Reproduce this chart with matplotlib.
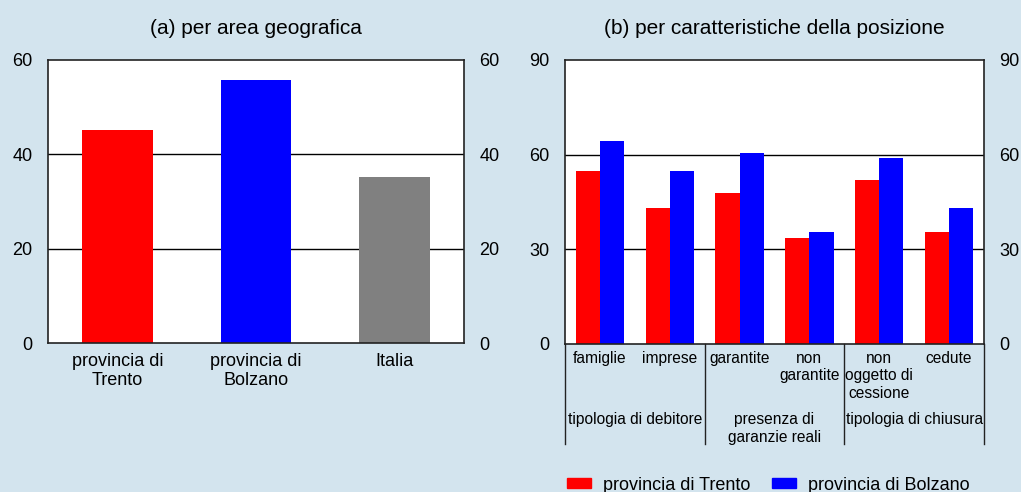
import matplotlib
matplotlib.use("Agg")
import matplotlib.pyplot as plt
import matplotlib.transforms as mtransforms
from matplotlib.patches import Patch

plt.rcParams['font.family'] = ['Liberation Sans', 'DejaVu Sans']

# %% data
geo_labels = ['provincia di\nTrento', 'provincia di\nBolzano', 'Italia']
geo_values = [45.2, 55.8, 35.2]
geo_colors = ['#ff0000', '#0000ff', '#808080']

pos_labels = ['famiglie', 'imprese', 'garantite', 'non\ngarantite',
              'non\noggetto di\ncessione', 'cedute']
trento = [54.7, 43.0, 47.8, 33.6, 51.9, 35.4]
bolzano = [64.4, 54.8, 60.5, 35.6, 58.9, 43.0]
group_labels = ['tipologia di debitore', 'presenza di\ngaranzie reali', 'tipologia di chiusura']
group_centers = [0.5, 2.5, 4.5]
group_edges = [-0.5, 1.5, 3.5, 5.5]

bg = '#d3e4ee'
red = '#ff0000'
blue = '#0000ff'

# %% figure
fig = plt.figure(figsize=(10.21, 4.92), dpi=100, facecolor=bg)
ax1 = fig.add_axes([48 / 1021, 1 - 343 / 492, 416 / 1021, 283 / 492])
ax2 = fig.add_axes([565 / 1021, 1 - 344 / 492, 419 / 1021, 284 / 492])


def style(ax, ticks):
    ax.set_facecolor('white')
    ax.set_ylim(ticks[0], ticks[-1])
    ax.set_yticks(ticks)
    ax.tick_params(axis='y', length=0, pad=11, labelsize=13,
                   left=True, right=True, labelleft=True, labelright=True)
    for t in ticks[1:-1]:
        ax.axhline(t, color='black', lw=1, zorder=1)
    for s in ax.spines.values():
        s.set_linewidth(1.2)
        s.set_color('#222222')


# %% (a) per area geografica
x = range(len(geo_values))
ax1.bar(x, geo_values, width=0.51, color=geo_colors, zorder=2)
ax1.set_xlim(-0.5, 2.5)
style(ax1, [0, 20, 40, 60])
ax1.set_xticks(list(x))
ax1.set_xticklabels(geo_labels, fontsize=13, linespacing=1.15)
ax1.tick_params(axis='x', length=0, pad=7)
ax1.set_title('(a) per area geografica', fontsize=15, pad=19)

# %% (b) per caratteristiche della posizione
w = 0.345
xs = list(range(len(pos_labels)))
ax2.bar([i - w / 2 for i in xs], trento, width=w, color=red, zorder=2)
ax2.bar([i + w / 2 for i in xs], bolzano, width=w, color=blue, zorder=2)
ax2.set_xlim(-0.5, 5.5)
style(ax2, [0, 30, 60, 90])
ax2.set_xticks(xs)
ax2.set_xticklabels(pos_labels, fontsize=11.2, linespacing=1.2)
ax2.tick_params(axis='x', length=0, pad=5)
ax2.set_title('(b) per caratteristiche della posizione', fontsize=15, pad=19)

trans = mtransforms.blended_transform_factory(ax2.transData, ax2.transAxes)
for e in group_edges:
    ax2.plot([e, e], [0, -0.352], transform=trans, color='#222222', lw=1, clip_on=False)
for c, lab in zip(group_centers, group_labels):
    ax2.text(c, -0.238, lab, transform=trans, ha='center', va='top',
             fontsize=11.2, linespacing=1.25)

handles = [Patch(color=red, label='provincia di Trento'),
           Patch(color=blue, label='provincia di Bolzano')]
fig.legend(handles=handles, loc='center left', bbox_to_anchor=(567 / 1021, 1 - 485 / 492),
           ncol=2, frameon=False, fontsize=13, borderpad=0, borderaxespad=0,
           handlelength=1.33, handleheight=0.45, handletextpad=0.65, columnspacing=1.2)

fig.savefig('out.png', dpi=100, facecolor=bg)
